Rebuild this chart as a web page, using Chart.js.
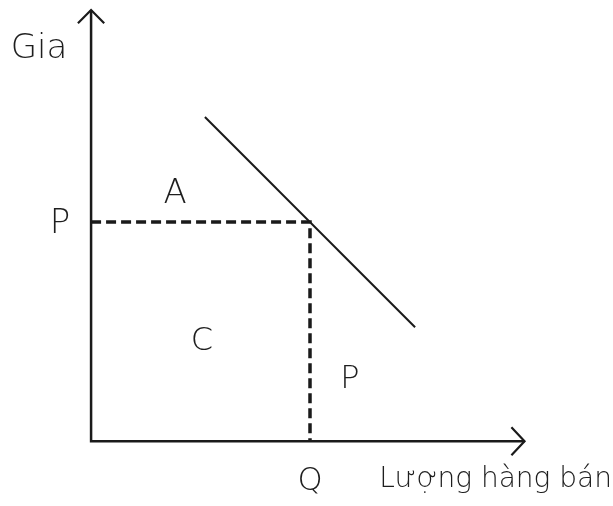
<!DOCTYPE html>
<html>
<head>
<meta charset="utf-8">
<script src="https://cdn.jsdelivr.net/npm/chart.js@4"></script>
<style>
  html, body { margin: 0; padding: 0; background: #fff; }
  #wrap { width: 613px; height: 506px; }
</style>
</head>
<body>
<div id="wrap"><canvas id="surplusChart" width="613" height="506"></canvas></div>
<script>
// Market point on the demand curve
const quantityQ = 50;
const priceP = 50;

// Demand curve end points (quantity, price)
const demandQ = [26, 74];
const demandP = [74, 26];

// Axis lengths in data units
const axisMaxQ = 99;
const axisMaxP = 98.4;

// Text labels and where they sit (data units, baseline)
const labelTexts = ["Gia", "P", "A", "C", "P", "Q", "Lượng hàng bán"];
const labelQ = [-11.9, -7.1, 19.2, 25.3, 59.1, quantityQ, 92.4];
const labelP = [87.4, 47.5, 54.3, 20.8, 12.1, -11.2, -10.5];
const labelSizes = [34, 34, 34, 32, 32, 32, 28];

const toPoints = (xs, ys) => xs.map((x, i) => ({ x: x, y: ys[i] }));

const labelPlugin = {
    id: "labels",
    afterDatasetsDraw(chart) {
        const ctx = chart.ctx;
        const xs = chart.scales.x, ys = chart.scales.y;
        ctx.save();
        ctx.fillStyle = "#1e1e1e";
        ctx.textAlign = "center";
        ctx.textBaseline = "alphabetic";
        labelTexts.forEach((t, i) => {
            ctx.font = "200 " + labelSizes[i] + "px 'DejaVu Sans'";
            ctx.fillText(t, xs.getPixelForValue(labelQ[i]), ys.getPixelForValue(labelP[i]));
        });
        ctx.restore();
    }
};

const lineSet = (points, width, dash) => ({
    data: points,
    showLine: true,
    borderColor: "#1a1a1a",
    borderWidth: width,
    borderDash: dash || [],
    pointRadius: 0,
    fill: false,
    clip: false
});

const ctx = document.getElementById("surplusChart").getContext("2d");
new Chart(ctx, {
    type: "scatter",
    data: {
        datasets: [
            // axes
            lineSet(toPoints([0, 0, axisMaxQ], [axisMaxP, 0, 0]), 2.5),
            // arrow heads
            lineSet(toPoints([-3, 0, 3], [axisMaxP - 3, axisMaxP, axisMaxP - 3]), 2.2),
            lineSet(toPoints([axisMaxQ - 3, axisMaxQ, axisMaxQ - 3], [3.2, 0, -3.2]), 2.2),
            // demand
            lineSet(toPoints(demandQ, demandP), 2),
            // price / quantity guides
            lineSet(toPoints([0, quantityQ, quantityQ], [priceP, priceP, 0]), 3.5, [10, 5])
        ]
    },
    options: {
        responsive: false,
        animation: false,
        events: [],
        layout: { padding: 0 },
        plugins: { legend: { display: false }, tooltip: { enabled: false } },
        scales: {
            x: { type: "linear", min: -20.8, max: 119.2, display: false },
            y: { type: "linear", min: -14.8, max: 100.7, display: false }
        }
    },
    plugins: [labelPlugin]
});
</script>
</body>
</html>
